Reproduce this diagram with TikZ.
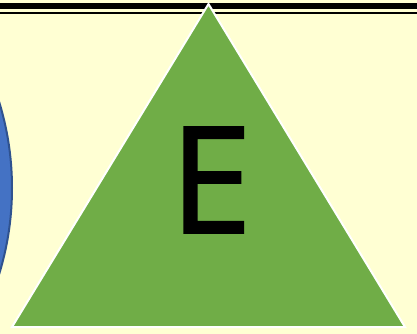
\documentclass[tikz,border=0pt]{standalone}
\usepackage{fontspec}
\newfontfamily\markerfont[FakeBold=1.3]{Open Sans}
\usetikzlibrary{positioning}

\definecolor{paper}{HTML}{FFFFD3}
\definecolor{leafgreen}{HTML}{70AD47}
\definecolor{ballblue}{HTML}{4472C4}
\definecolor{balledge}{HTML}{2F528F}

\begin{document}
\begin{tikzpicture}[
    x=1pt, y=-1pt,
    rule/.style={draw=black, line cap=butt},
    ball/.style={fill=ballblue, draw=balledge, line width=2pt},
    peak/.style={fill=leafgreen, draw=white, line width=2pt, line join=miter},
    letter/.style={font=\fontsize{148}{150}\selectfont\markerfont, text=black, inner sep=0pt}
]
    % background and frame
    \fill[paper] (0,0) rectangle (417,334);
    \useasboundingbox (0,0) rectangle (417,334);

    % double rule at the top
    \draw[rule, line width=6.5pt] (0,6.2) -- (417,6.2);
    \draw[rule, line width=2pt] (0,13.5) -- (417,13.5);

    % blue disc cut by the left edge
    \begin{scope}
        \clip (0,0) rectangle (417,334);
        \draw[ball] (-281,188) circle (293);
    \end{scope}

    % green triangle
    \coordinate (apex) at (208.5,4);
    \coordinate (left) at (12,327);
    \coordinate (right) at (405,327);
    \draw[peak] (apex) -- (right) -- (left) -- cycle;

    \node (e) [letter] at (211,180) {E};
\end{tikzpicture}
\end{document}
